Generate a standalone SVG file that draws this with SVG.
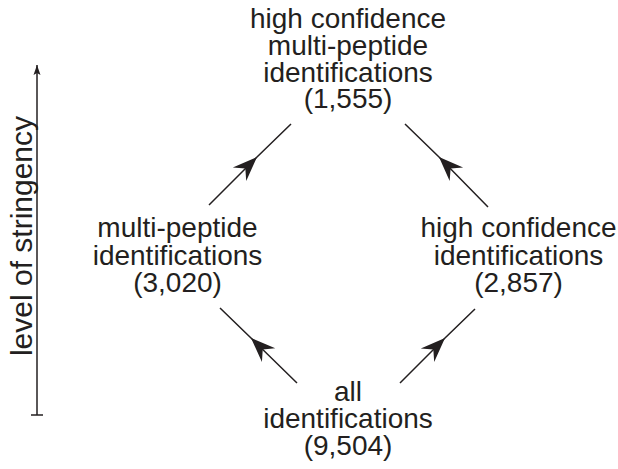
<svg xmlns="http://www.w3.org/2000/svg" width="618" height="469" viewBox="0 0 618 469">
<style>
text{font-family:"Liberation Sans",Arial,sans-serif;font-size:28px;fill:#231f20;text-anchor:middle}
.c{fill:none;stroke:#231f20;stroke-width:1.5}
</style>
<defs>
<marker id="ah" markerUnits="userSpaceOnUse" markerWidth="30" markerHeight="30" viewBox="-20 -10 22 20" refX="0" refY="0" orient="auto" overflow="visible">
<path d="M0,0 L-18,-7 L-12,0 L-18,7 Z" fill="#231f20"/>
</marker>
<marker id="ax" markerUnits="userSpaceOnUse" markerWidth="14" markerHeight="14" viewBox="-12 -6 14 12" refX="0" refY="0" orient="auto" overflow="visible">
<path d="M0,0 L-10,-3.5 L-8,0 L-10,3.5 Z" fill="#231f20"/>
</marker>
</defs>
<g id="connectors">
<polyline class="c" points="297,383 251,338 220,308" marker-mid="url(#ah)"/>
<polyline class="c" points="400,383 445,338 475,309" marker-mid="url(#ah)"/>
<polyline class="c" points="209,205 257,157 291,124" marker-mid="url(#ah)"/>
<polyline class="c" points="488,207 439,157 405,124" marker-mid="url(#ah)"/>
</g>
<g id="axis">
<line class="c" x1="37" y1="415" x2="37" y2="65" marker-end="url(#ax)"/>
<line class="c" x1="31" y1="415" x2="43" y2="415"/>
<text transform="translate(32,236) rotate(-90)" style="font-size:30px">level of stringency</text>
</g>
<g id="node-top">
<text x="348" y="28">high confidence</text>
<text x="348" y="55">multi-peptide</text>
<text x="348" y="82">identifications</text>
<text x="348" y="108">(1,555)</text>
</g>
<g id="node-left">
<text x="177.5" y="237">multi-peptide</text>
<text x="177.5" y="265">identifications</text>
<text x="177.5" y="292">(3,020)</text>
</g>
<g id="node-right">
<text x="518.5" y="237">high confidence</text>
<text x="518.5" y="265">identifications</text>
<text x="518.5" y="292">(2,857)</text>
</g>
<g id="node-bottom">
<text x="348" y="401">all</text>
<text x="348" y="428">identifications</text>
<text x="348" y="455">(9,504)</text>
</g>
</svg>
